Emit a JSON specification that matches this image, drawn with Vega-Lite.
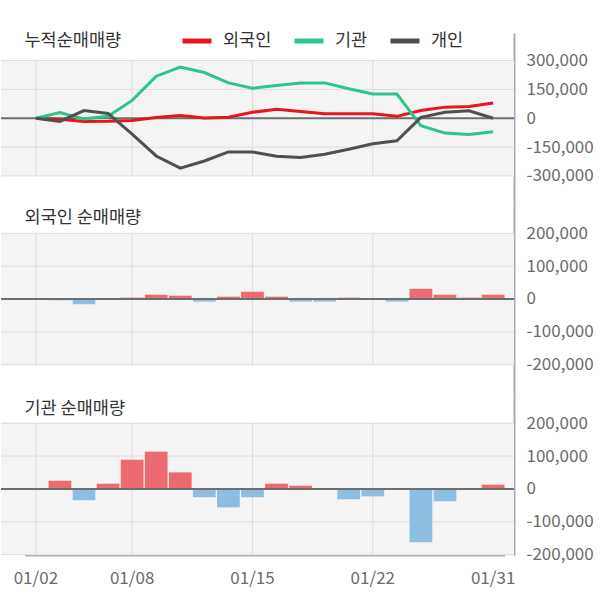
{
  "$schema": "https://vega.github.io/schema/vega-lite/v6.json",
  "background": "white",
  "padding": {"left": 0, "top": 24, "right": 0, "bottom": 16},
  "spacing": 0,
  "bounds": "flush",
  "config": {
    "font": "Noto Sans CJK KR",
    "view": {"stroke": null},
    "axis": {
      "labelFont": "Noto Sans CJK KR",
      "labelFontSize": 17,
      "labelColor": "#6b6b6b",
      "ticks": false,
      "grid": false,
      "domainColor": "#ababab",
      "domainWidth": 2,
      "labelPadding": 12,
      "labelOverlap": false,
      "labelFlush": false,
      "title": null
    }
  },
  "datasets": {
    "cum": [
      {"d": "01/02", "외국인": 0, "기관": 0, "개인": 0},
      {"d": "01/03", "외국인": -5000, "기관": 30000, "개인": -16000},
      {"d": "01/06", "외국인": -17000, "기관": -3000, "개인": 40000},
      {"d": "01/07", "외국인": -16000, "기관": 10000, "개인": 25000},
      {"d": "01/08", "외국인": -12000, "기관": 93000, "개인": -82000},
      {"d": "01/09", "외국인": 4000, "기관": 219000, "개인": -196000},
      {"d": "01/10", "외국인": 14000, "기관": 266000, "개인": -259000},
      {"d": "01/13", "외국인": 2000, "기관": 238000, "개인": -222000},
      {"d": "01/14", "외국인": 5000, "기관": 184000, "개인": -175000},
      {"d": "01/15", "외국인": 31000, "기관": 156000, "개인": -175000},
      {"d": "01/16", "외국인": 47000, "기관": 170000, "개인": -197000},
      {"d": "01/17", "외국인": 35000, "기관": 184000, "개인": -204000},
      {"d": "01/20", "외국인": 23000, "기관": 184000, "개인": -187000},
      {"d": "01/21", "외국인": 23000, "기관": 154000, "개인": -161000},
      {"d": "01/22", "외국인": 23000, "기관": 126000, "개인": -133000},
      {"d": "01/23", "외국인": 10000, "기관": 126000, "개인": -117000},
      {"d": "01/28", "외국인": 40000, "기관": -38000, "개인": 5000},
      {"d": "01/29", "외국인": 58000, "기관": -77000, "개인": 31000},
      {"d": "01/30", "외국인": 61000, "기관": -84000, "개인": 39000},
      {"d": "01/31", "외국인": 79000, "기관": -70000, "개인": 0}
    ],
    "frn": [
      {"d": "01/02", "v": 0}, {"d": "01/03", "v": -4000}, {"d": "01/06", "v": -16000},
      {"d": "01/07", "v": 0}, {"d": "01/08", "v": 4000}, {"d": "01/09", "v": 13000},
      {"d": "01/10", "v": 10000}, {"d": "01/13", "v": -8000}, {"d": "01/14", "v": 7000},
      {"d": "01/15", "v": 22000}, {"d": "01/16", "v": 7000}, {"d": "01/17", "v": -8000},
      {"d": "01/20", "v": -8000}, {"d": "01/21", "v": 4000}, {"d": "01/22", "v": 0},
      {"d": "01/23", "v": -8000}, {"d": "01/28", "v": 31000}, {"d": "01/29", "v": 13000},
      {"d": "01/30", "v": 4000}, {"d": "01/31", "v": 13000}
    ],
    "ins": [
      {"d": "01/02", "v": 0}, {"d": "01/03", "v": 25000}, {"d": "01/06", "v": -34500},
      {"d": "01/07", "v": 16000}, {"d": "01/08", "v": 89000}, {"d": "01/09", "v": 113500},
      {"d": "01/10", "v": 50500}, {"d": "01/13", "v": -25000}, {"d": "01/14", "v": -56000},
      {"d": "01/15", "v": -25000}, {"d": "01/16", "v": 16000}, {"d": "01/17", "v": 10000},
      {"d": "01/20", "v": 0}, {"d": "01/21", "v": -31500}, {"d": "01/22", "v": -22500},
      {"d": "01/23", "v": 0}, {"d": "01/28", "v": -162500}, {"d": "01/29", "v": -37500},
      {"d": "01/30", "v": 0}, {"d": "01/31", "v": 13000}
    ],
    "vgrid": [{"d": "01/02"}, {"d": "01/08"}, {"d": "01/15"}, {"d": "01/22"}],
    "hgrid1": [{"g": 300000}, {"g": 150000}, {"g": -150000}, {"g": -300000}],
    "hgrid2": [{"g": 200000}, {"g": 100000}, {"g": -100000}, {"g": -200000}]
  },
  "vconcat": [
    {
      "width": 513,
      "height": 172,
      "layer": [
        {
          "data": {"values": [{"t": "누적순매매량"}]},
          "mark": {"type": "rect", "color": "#f4f4f4"},
          "encoding": {
            "y": {"datum": 300000, "type": "quantitative", "title": null,
                  "scale": {"domain": [-451000, 443500], "nice": false, "zero": false},
                  "axis": {"orient": "right", "values": [300000, 150000, 0, -150000, -300000], "tickCount": 20, "labelOverlap": false, "labelExpr": "replace(format(datum.value, ','), '−', '-')"}},
            "y2": {"datum": -300000}
          }
        },
        {
          "data": {"name": "hgrid1"},
          "mark": {"type": "rule", "color": "#dcdcdc", "strokeWidth": 1},
          "encoding": {"y": {"field": "g", "type": "quantitative", "title": null}}
        },
        {
          "data": {"name": "vgrid"},
          "mark": {"type": "rule", "color": "#dcdcdc", "strokeWidth": 1},
          "encoding": {
            "x": {"field": "d", "type": "ordinal", "axis": null, "bandPosition": 0.5,
                  "scale": {"type": "band", "range": [23.5, 503.5], "paddingInner": 0.055, "paddingOuter": 0}},
            "y": {"datum": 300000, "type": "quantitative", "title": null},
            "y2": {"datum": -300000}
          }
        },
        {
          "data": {"values": [{"z": 0}]},
          "mark": {"type": "rule", "color": "#6e6e6e", "strokeWidth": 2},
          "encoding": {"y": {"field": "z", "type": "quantitative", "title": null}}
        },
        {
          "data": {"name": "cum"},
          "transform": [{"fold": ["외국인", "기관", "개인"], "as": ["s", "v"]}],
          "mark": {"type": "line", "strokeWidth": 3, "interpolate": "linear"},
          "encoding": {
            "x": {"field": "d", "type": "ordinal", "axis": null, "bandPosition": 0.5},
            "y": {"field": "v", "type": "quantitative", "title": null},
            "color": {
              "field": "s", "type": "nominal",
              "scale": {"domain": ["외국인", "기관", "개인"], "range": ["#e8141e", "#2cc68a", "#505050"]},
              "legend": {
                "orient": "none", "legendX": 179, "legendY": -9, "direction": "horizontal",
                "title": null, "symbolType": "stroke", "symbolSize": 841, "symbolStrokeWidth": 5,
                "labelFontSize": 17.5, "labelColor": "#333333", "labelFont": "Noto Sans CJK KR",
                "labelOffset": 9, "columnPadding": 12, "padding": 0
              }
            }
          }
        },
        {
          "data": {"values": [{"t": "누적순매매량"}]},
          "mark": {"type": "text", "align": "left", "baseline": "middle", "fontSize": 17.5, "color": "#333333"},
          "encoding": {
            "x": {"datum": "01/02", "type": "ordinal", "bandPosition": 0},
            "y": {"datum": 402000, "type": "quantitative"},
            "text": {"field": "t"}
          }
        }
      ]
    },
    {
      "width": 513,
      "height": 190,
      "layer": [
        {
          "data": {"values": [{"t": "외국인 순매매량"}]},
          "mark": {"type": "rect", "color": "#f4f4f4"},
          "encoding": {
            "y": {"datum": 200000, "type": "quantitative", "title": null,
                  "scale": {"domain": [-292240, 286150], "nice": false, "zero": false},
                  "axis": {"orient": "right", "values": [200000, 100000, 0, -100000, -200000], "tickCount": 20, "labelOverlap": false, "labelExpr": "replace(format(datum.value, ','), '−', '-')"}},
            "y2": {"datum": -200000}
          }
        },
        {
          "data": {"name": "hgrid2"},
          "mark": {"type": "rule", "color": "#dcdcdc", "strokeWidth": 1},
          "encoding": {"y": {"field": "g", "type": "quantitative", "title": null}}
        },
        {
          "data": {"name": "vgrid"},
          "mark": {"type": "rule", "color": "#dcdcdc", "strokeWidth": 1},
          "encoding": {
            "x": {"field": "d", "type": "ordinal", "axis": null, "bandPosition": 0.5,
                  "scale": {"type": "band", "range": [23.5, 503.5], "paddingInner": 0.055, "paddingOuter": 0}},
            "y": {"datum": 200000, "type": "quantitative", "title": null},
            "y2": {"datum": -200000}
          }
        },
        {
          "data": {"name": "frn"},
          "mark": {"type": "bar"},
          "encoding": {
            "x": {"field": "d", "type": "ordinal", "axis": null},
            "y": {"field": "v", "type": "quantitative", "title": null, "stack": null},
            "color": {"condition": {"test": "datum.v < 0", "value": "#8ebde2"}, "value": "#ec6a70"}
          }
        },
        {
          "data": {"values": [{"z": 0}]},
          "mark": {"type": "rule", "color": "#6e6e6e", "strokeWidth": 2},
          "encoding": {"y": {"field": "z", "type": "quantitative", "title": null}}
        },
        {
          "data": {"values": [{"t": "외국인 순매매량"}]},
          "mark": {"type": "text", "align": "left", "baseline": "middle", "fontSize": 17.5, "color": "#333333"},
          "encoding": {
            "x": {"datum": "01/02", "type": "ordinal", "bandPosition": 0},
            "y": {"datum": 246600, "type": "quantitative"},
            "text": {"field": "t"}
          }
        }
      ]
    },
    {
      "width": 513,
      "height": 160,
      "layer": [
        {
          "data": {"values": [{"t": "기관 순매매량"}]},
          "mark": {"type": "rect", "color": "#f4f4f4"},
          "encoding": {
            "y": {"datum": 200000, "type": "quantitative", "title": null,
                  "scale": {"domain": [-201000, 286000], "nice": false, "zero": false},
                  "axis": {"orient": "right", "values": [200000, 100000, 0, -100000, -200000], "tickCount": 20, "labelOverlap": false, "labelExpr": "replace(format(datum.value, ','), '−', '-')"}},
            "y2": {"datum": -201000}
          }
        },
        {
          "data": {"name": "hgrid2"},
          "mark": {"type": "rule", "color": "#dcdcdc", "strokeWidth": 1},
          "encoding": {"y": {"field": "g", "type": "quantitative", "title": null}}
        },
        {
          "data": {"name": "vgrid"},
          "mark": {"type": "rule", "color": "#dcdcdc", "strokeWidth": 1},
          "encoding": {
            "x": {"field": "d", "type": "ordinal", "bandPosition": 0.5,
                  "scale": {"type": "band", "range": [23.5, 503.5], "paddingInner": 0.055, "paddingOuter": 0},
                  "axis": {"orient": "bottom", "values": ["01/02", "01/08", "01/15", "01/22", "01/31"], "labelPadding": 15, "labelAngle": 0, "bandPosition": 0.5}},
            "y": {"datum": 200000, "type": "quantitative", "title": null},
            "y2": {"datum": -201000}
          }
        },
        {
          "data": {"name": "ins"},
          "mark": {"type": "bar"},
          "encoding": {
            "x": {"field": "d", "type": "ordinal"},
            "y": {"field": "v", "type": "quantitative", "title": null, "stack": null},
            "color": {"condition": {"test": "datum.v < 0", "value": "#8ebde2"}, "value": "#ec6a70"}
          }
        },
        {
          "data": {"values": [{"z": 0}]},
          "mark": {"type": "rule", "color": "#6e6e6e", "strokeWidth": 2},
          "encoding": {"y": {"field": "z", "type": "quantitative", "title": null}}
        },
        {
          "data": {"values": [{"t": "기관 순매매량"}]},
          "mark": {"type": "text", "align": "left", "baseline": "middle", "fontSize": 17.5, "color": "#333333"},
          "encoding": {
            "x": {"datum": "01/02", "type": "ordinal", "bandPosition": 0},
            "y": {"datum": 242000, "type": "quantitative"},
            "text": {"field": "t"}
          }
        }
      ]
    }
  ]
}
